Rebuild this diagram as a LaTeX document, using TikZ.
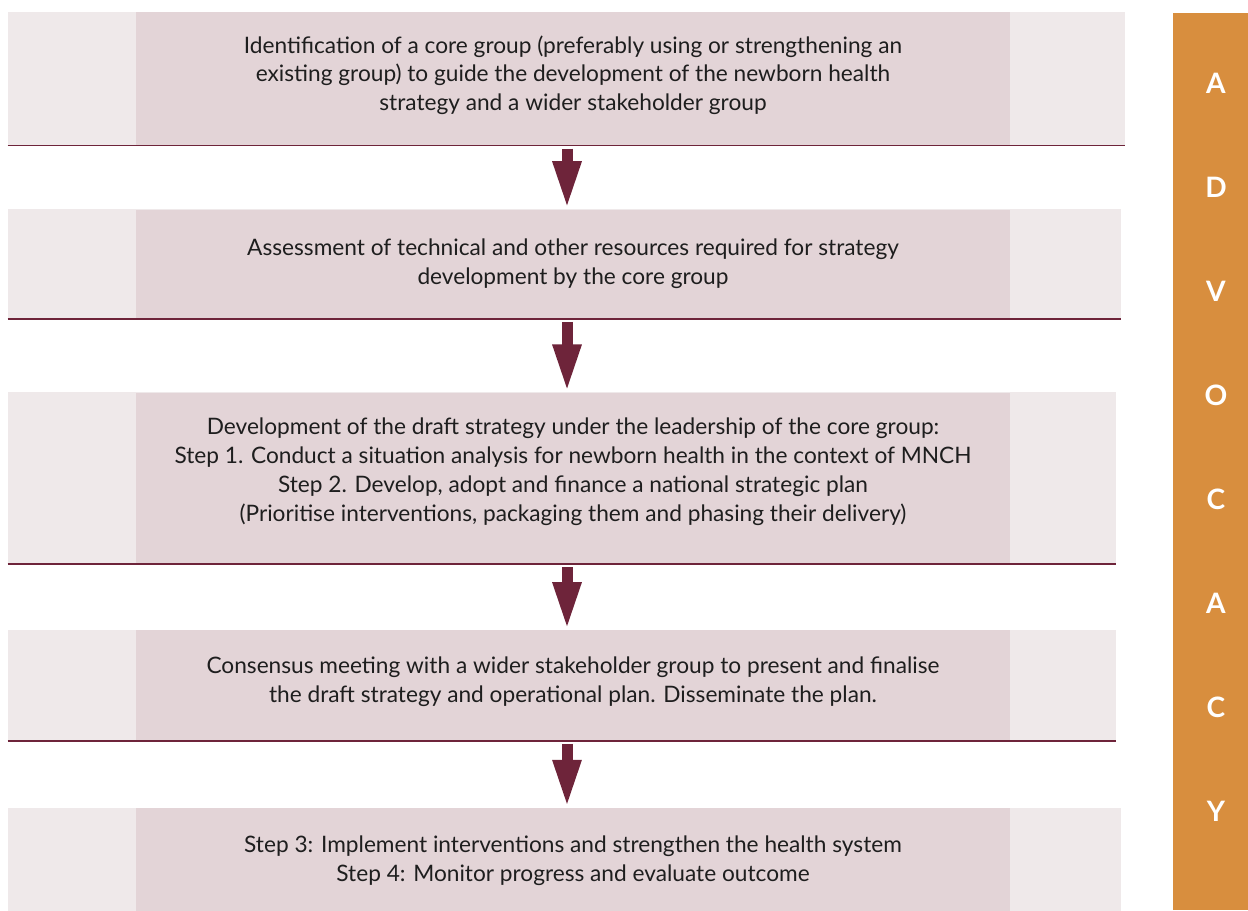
\documentclass[tikz,border=0pt]{standalone}
\usepackage{fontspec}
\setmainfont{Lato}
\usetikzlibrary{arrows.meta,positioning,backgrounds}
\definecolor{maroon}{RGB}{110,36,58}
\definecolor{paleside}{RGB}{239,233,234}
\definecolor{rosecore}{RGB}{227,212,215}
\definecolor{ochre}{RGB}{216,142,62}
\definecolor{inkgray}{RGB}{30,30,30}

\begin{document}
\begin{tikzpicture}[
  every node/.style={font=\fontsize{12.9}{16.4}\selectfont, text=inkgray},
  stage/.style={fill=rosecore, minimum width=17.48cm, align=center, inner sep=0pt},
  flow/.style={draw=maroon, line width=0.22cm, -{Triangle[width=0.52cm,length=0.96cm]}},
  letter/.style={font=\fontsize{16}{19}\selectfont\bfseries, text=white}
]
\useasboundingbox (0,0) rectangle (24.96,-18.2);

\node[stage, minimum height=2.66cm, text depth=0.23cm, anchor=north] (ident) at (11.46,-0.24)
  {Identification of a core group (preferably using or strengthening an\\
   existing group) to guide the development of the newborn health\\
   strategy and a wider stakeholder group};
\node[stage, minimum height=2.18cm, below=1.27cm of ident] (assess)
  {Assessment of technical and other resources required for strategy\\
   development by the core group};
\node[stage, minimum height=3.42cm, text depth=0.35cm, below=1.47cm of assess] (draft)
  {Development of the draft strategy under the leadership of the core group:\\
   Step 1. Conduct a situation analysis for newborn health in the context of MNCH\\
   Step 2. Develop, adopt and finance a national strategic plan\\
   (Prioritise interventions, packaging them and phasing their delivery)};
\node[stage, minimum height=2.2cm, text depth=0.23cm, below=1.32cm of draft] (consensus)
  {Consensus meeting with a wider stakeholder group to present and finalise\\
   the draft strategy and operational plan. Disseminate the plan.};
\node[stage, minimum height=2.1cm, below=1.34cm of consensus] (implement)
  {Step 3: Implement interventions and strengthen the health system\\
   Step 4: Monitor progress and evaluate outcome};

% pale side bands behind each stage
\begin{scope}[on background layer]
\foreach \s/\r in {ident/2.3, assess/2.22, draft/2.12, consensus/2.12, implement/2.22}
  \fill[paleside] ([xshift=-2.56cm]\s.north west) rectangle ([xshift=\r cm]\s.south east);
\end{scope}

% rule under each stage
\foreach \s/\r in {ident/2.3, assess/2.22, draft/2.12, consensus/2.12}
  \draw[maroon, line width=0.03cm] ([xshift=-2.56cm]\s.south west) -- ([xshift=\r cm]\s.south east);

\foreach \a/\b in {ident/assess, assess/draft, draft/consensus, consensus/implement}
  \draw[flow] ([xshift=-0.12cm,yshift=-0.06cm]\a.south) -- ([xshift=-0.12cm]\b.north);

% advocacy bar
\node[fill=ochre, minimum width=1.5cm, minimum height=17.94cm, anchor=north west, inner sep=0pt] (bar) at (23.46,-0.26) {};
\foreach \l [count=\i from 0] in {A,D,V,O,C,A,C,Y}
  \node[letter] (adv\i) at (24.32,-1.66-2.082*\i) {\l};
\end{tikzpicture}
\end{document}
